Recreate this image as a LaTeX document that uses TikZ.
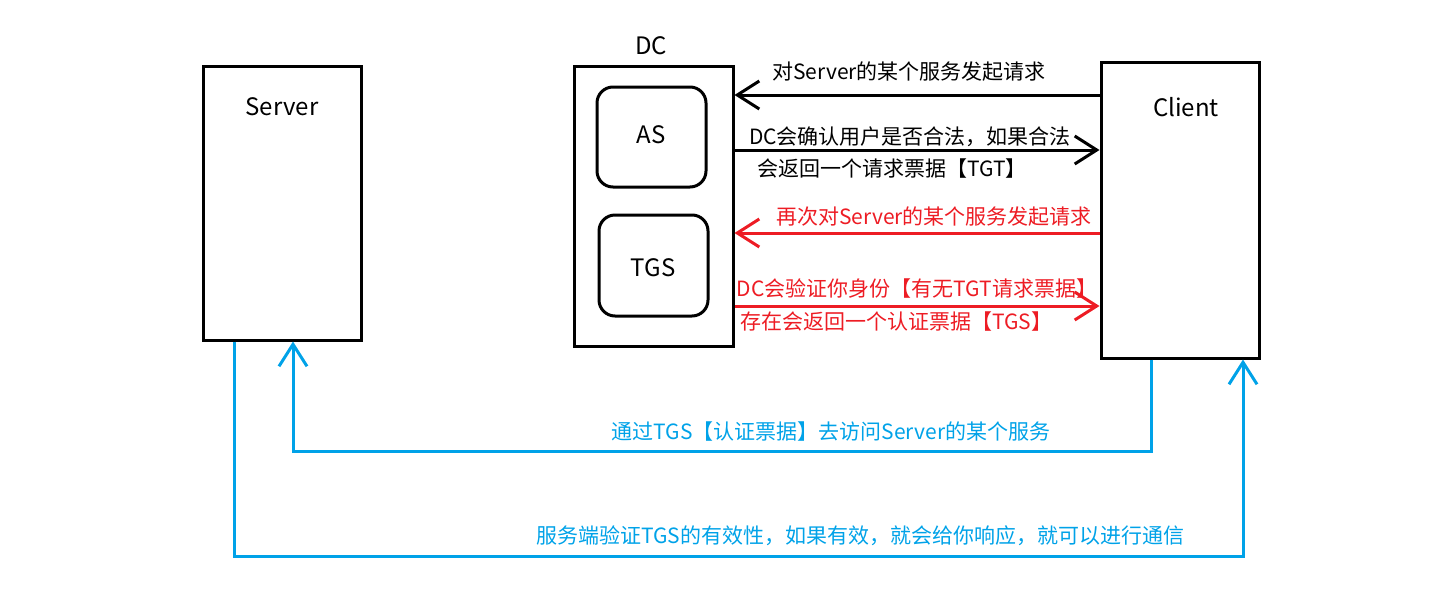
\documentclass[tikz,border=0pt]{standalone}
\usepackage{fontspec}
\setmainfont{Noto Sans CJK SC}
\usetikzlibrary{arrows.meta}
\definecolor{pred}{HTML}{ED1C24}
\definecolor{pblue}{HTML}{00A2E8}
\tikzset{
  box/.style={draw=black, line width=3pt, inner sep=0pt},
  rbox/.style={draw=black, line width=3pt, rounded corners=16pt, inner sep=0pt},
  boxlab/.style={font=\fontsize{24}{28}\selectfont, inner sep=0pt},
  lab/.style={font=\fontsize{21}{25}\selectfont, inner sep=0pt},
  tip/.style={-{Straight Barb[length=22pt,width=28pt]}},
  conn/.style={line width=3pt, tip},
}
\begin{document}
\begin{tikzpicture}[x=1pt,y=-1pt]
\useasboundingbox (0,0) rectangle (1440,600);
% boxes
\node[box, minimum width=158pt, minimum height=274pt] (server) at (282,203) {};
\node[box, minimum width=159pt, minimum height=280pt] (dc) at (653.5,206) {};
\node[box, minimum width=158pt, minimum height=296pt] (client) at (1180,210) {};
\node[rbox, minimum width=109pt, minimum height=100pt] (as) at (651.5,137) {};
\node[rbox, minimum width=109pt, minimum height=101pt] (tgs) at (653.5,265.5) {};
% box labels
\node[boxlab] (serverlab) at (282,107) {Server};
\node[boxlab] (dclab) at (651,46) {DC};
\node[boxlab] (clientlab) at (1186,107) {Client};
\node[boxlab] (aslab) at (651,135) {AS};
\node[boxlab] (tgslab) at (653,268) {TGS};
% black arrows
\draw[conn, black] (client.west |- 0,95) -- (dc.east |- 0,95);
\draw[conn, black] (dc.east |- 0,150) -- (client.west |- 0,150);
\node[lab] (t1) at (909,72) {对Server的某个服务发起请求};
\node[lab] (t2) at (910,137) {DC会确认用户是否合法，如果合法};
\node[lab] (t3) at (892,169) {会返回一个请求票据【TGT】};
% red arrows
\draw[conn, pred] (client.west |- 0,233) -- (dc.east |- 0,233);
\draw[conn, pred] (dc.east |- 0,306) -- (client.west |- 0,306);
\node[lab, text=pred] (t4) at (934,217) {再次对Server的某个服务发起请求};
\node[lab, text=pred] (t5) at (917,289) {DC会验证你身份【有无TGT请求票据】};
\node[lab, text=pred] (t6) at (896,322) {存在会返回一个认证票据【TGS】};
% blue arrows
\coordinate (b1a) at (1151,451);
\coordinate (b1b) at (293,451);
\coordinate (b2a) at (234,556);
\coordinate (b2b) at (1243,556);
\draw[conn, pblue] (client.south -| b1a) -- (b1a) -- (b1b) -- (server.south -| b1b);
\draw[conn, pblue] (server.south -| b2a) -- (b2a) -- (b2b) -- (client.south -| b2b);
\node[lab, text=pblue] (t7) at (831,432) {通过TGS【认证票据】去访问Server的某个服务};
\node[lab, text=pblue] (t8) at (860,536) {服务端验证TGS的有效性，如果有效，就会给你响应，就可以进行通信};
\end{tikzpicture}
\end{document}
